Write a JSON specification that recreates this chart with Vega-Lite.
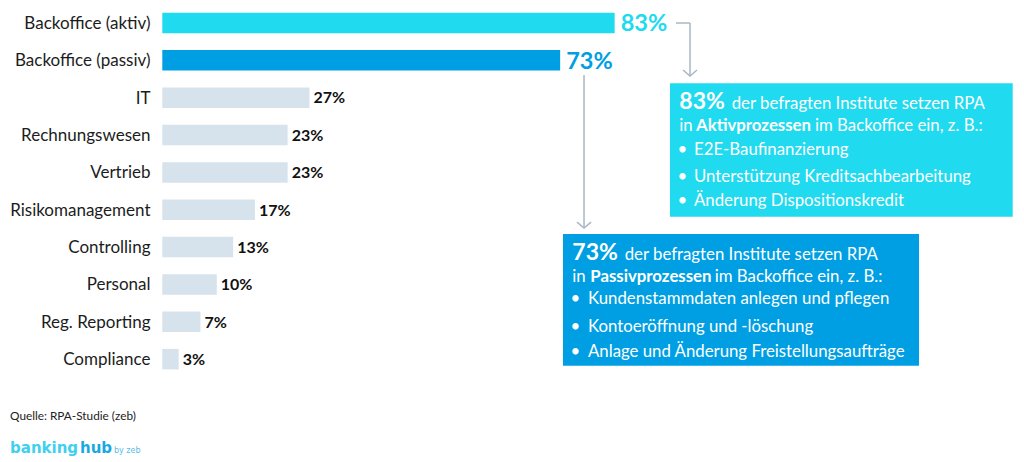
{
  "$schema": "https://vega.github.io/schema/vega-lite/v6.json",
  "width": 1024,
  "height": 462,
  "autosize": {"type": "none"},
  "padding": 0,
  "background": "white",
  "config": {"view": {"stroke": null}, "font": "Lato", "text": {"font": "Lato"}},
  "data": {
    "values": [
      {"bereich": "Backoffice (aktiv)", "rang": 0, "anteil": 83, "label": "83%", "gruppe": "aktiv"},
      {"bereich": "Backoffice (passiv)", "rang": 1, "anteil": 73, "label": "73%", "gruppe": "passiv"},
      {"bereich": "IT", "rang": 2, "anteil": 27, "label": "27%", "gruppe": "sonstige"},
      {"bereich": "Rechnungswesen", "rang": 3, "anteil": 23, "label": "23%", "gruppe": "sonstige"},
      {"bereich": "Vertrieb", "rang": 4, "anteil": 23, "label": "23%", "gruppe": "sonstige"},
      {"bereich": "Risikomanagement", "rang": 5, "anteil": 17, "label": "17%", "gruppe": "sonstige"},
      {"bereich": "Controlling", "rang": 6, "anteil": 13, "label": "13%", "gruppe": "sonstige"},
      {"bereich": "Personal", "rang": 7, "anteil": 10, "label": "10%", "gruppe": "sonstige"},
      {"bereich": "Reg. Reporting", "rang": 8, "anteil": 7, "label": "7%", "gruppe": "sonstige"},
      {"bereich": "Compliance", "rang": 9, "anteil": 3, "label": "3%", "gruppe": "sonstige"}
    ]
  },
  "layer": [
    {
      "mark": {"type": "bar", "height": 20.5},
      "encoding": {
        "x": {"field": "anteil", "type": "quantitative", "axis": null, "scale": {"domain": [-29.78, 158.11], "nice": false, "zero": false, "padding": 0}},
        "x2": {"datum": 0},
        "y": {"field": "rang", "type": "quantitative", "axis": null, "scale": {"domain": [-0.6158, 11.754], "reverse": true, "nice": false, "zero": false, "padding": 0}},
        "color": {"field": "gruppe", "type": "nominal", "legend": null, "scale": {"domain": ["aktiv", "passiv", "sonstige"], "range": ["#20daf0", "#009fe3", "#d7e3ec"]}}
      }
    },
    {
      "mark": {"type": "text", "align": "right", "baseline": "alphabetic", "dy": 6, "fontSize": 17, "color": "#1c1c1c"},
      "encoding": {
        "x": {"datum": -2.17, "axis": null},
        "y": {"field": "rang", "type": "quantitative", "axis": null},
        "text": {"field": "bereich"}
      }
    },
    {
      "transform": [{"filter": "datum.rang >= 2"}],
      "mark": {"type": "text", "align": "left", "baseline": "alphabetic", "dx": 4, "dy": 5.8, "fontSize": 16, "fontWeight": "bold", "color": "#111111"},
      "encoding": {
        "x": {"field": "anteil", "type": "quantitative", "axis": null},
        "y": {"field": "rang", "type": "quantitative", "axis": null},
        "text": {"field": "label"}
      }
    },
    {
      "transform": [{"filter": "datum.rang < 2"}],
      "mark": {"type": "text", "align": "left", "baseline": "alphabetic", "dx": 6, "dy": 8.5, "fontSize": 23.5, "fontWeight": "bold"},
      "encoding": {
        "x": {"field": "anteil", "type": "quantitative", "axis": null},
        "y": {"field": "rang", "type": "quantitative", "axis": null},
        "text": {"field": "label"},
        "color": {"condition": {"test": "datum.gruppe === 'aktiv'", "value": "#20daf0"}, "value": "#009fe3"}
      }
    },
    {
      "data": {"values": [{}]},
      "mark": {"type": "rect", "color": "#20daf0"},
      "encoding": {
        "x": {"datum": 93.16, "axis": null}, "x2": {"datum": 156.04},
        "y": {"datum": 1.614, "axis": null}, "y2": {"datum": 5.186}
      }
    },
    {
      "data": {"values": [{}]},
      "mark": {"type": "rect", "color": "#009fe3"},
      "encoding": {
        "x": {"datum": 73.52, "axis": null}, "x2": {"datum": 138.85},
        "y": {"datum": 5.649, "axis": null}, "y2": {"datum": 9.175}
      }
    },
    {
      "data": {"values": [{}]},
      "mark": {"type": "rule", "color": "#a9b7c4", "strokeWidth": 1.5},
      "encoding": {"x": {"datum": 94.26, "axis": null}, "x2": {"datum": 96.83}, "y": {"datum": 0, "axis": null}}
    },
    {
      "data": {"values": [{}]},
      "mark": {"type": "rule", "color": "#a9b7c4", "strokeWidth": 1.5},
      "encoding": {"x": {"datum": 96.83, "axis": null}, "y": {"datum": 0, "axis": null}, "y2": {"datum": 1.419}}
    },
    {
      "data": {"values": [{}]},
      "mark": {"type": "rule", "color": "#a9b7c4", "strokeWidth": 1.5},
      "encoding": {"x": {"datum": 77.38, "axis": null}, "y": {"datum": 1.392, "axis": null}, "y2": {"datum": 5.489}}
    },
    {
      "data": {"values": [{}]},
      "mark": {"type": "point", "shape": "M-1,-0.45L0,0.4L1,-0.45", "filled": false, "size": 196, "stroke": "#a9b7c4", "strokeWidth": 1.5, "opacity": 1},
      "encoding": {"x": {"datum": 96.83, "axis": null}, "y": {"datum": 1.344, "axis": null}}
    },
    {
      "data": {"values": [{}]},
      "mark": {"type": "point", "shape": "M-1,-0.45L0,0.4L1,-0.45", "filled": false, "size": 196, "stroke": "#a9b7c4", "strokeWidth": 1.5, "opacity": 1},
      "encoding": {"x": {"datum": 77.38, "axis": null}, "y": {"datum": 5.414, "axis": null}}
    },
    {
      "data": {"values": [{}]},
      "mark": {"type": "text", "align": "left", "baseline": "alphabetic", "fontSize": 23, "fontWeight": "bold", "color": "white"},
      "encoding": {"x": {"datum": 94.86, "axis": null}, "y": {"datum": 2.3025, "axis": null}, "text": {"value": "83%"}}
    },
    {
      "data": {"values": [{}]},
      "mark": {"type": "text", "align": "left", "baseline": "alphabetic", "fontSize": 16.8, "color": "white"},
      "encoding": {"x": {"datum": 104.48, "axis": null}, "y": {"datum": 2.3025, "axis": null}, "text": {"value": "der befragten Institute setzen RPA"}}
    },
    {
      "data": {"values": [{}]},
      "mark": {"type": "text", "align": "left", "baseline": "alphabetic", "fontSize": 16.8, "color": "white"},
      "encoding": {"x": {"datum": 94.86, "axis": null}, "y": {"datum": 2.8835, "axis": null}, "text": {"value": "in"}}
    },
    {
      "data": {"values": [{}]},
      "mark": {"type": "text", "align": "left", "baseline": "alphabetic", "fontSize": 16.8, "fontWeight": "bold", "color": "white"},
      "encoding": {"x": {"datum": 97.93, "axis": null}, "y": {"datum": 2.8835, "axis": null}, "text": {"value": "Aktivprozessen"}}
    },
    {
      "data": {"values": [{}]},
      "mark": {"type": "text", "align": "left", "baseline": "alphabetic", "fontSize": 16.8, "color": "white"},
      "encoding": {"x": {"datum": 119.76, "axis": null}, "y": {"datum": 2.8835, "axis": null}, "text": {"value": "im Backoffice ein, z. B.:"}}
    },
    {
      "data": {"values": [{"y": 3.534}, {"y": 4.249}, {"y": 4.892}]},
      "mark": {"type": "text", "align": "center", "baseline": "alphabetic", "fontSize": 16.8, "color": "white"},
      "encoding": {"x": {"datum": 95.41, "axis": null}, "y": {"field": "y", "type": "quantitative", "axis": null}, "text": {"value": "•"}}
    },
    {
      "data": {"values": [{}]},
      "mark": {"type": "text", "align": "left", "baseline": "alphabetic", "fontSize": 16.8, "color": "white"},
      "encoding": {"x": {"datum": 97.56, "axis": null}, "y": {"datum": 3.534, "axis": null}, "text": {"value": "E2E-Baufinanzierung"}}
    },
    {
      "data": {"values": [{}]},
      "mark": {"type": "text", "align": "left", "baseline": "alphabetic", "fontSize": 16.8, "color": "white"},
      "encoding": {"x": {"datum": 97.56, "axis": null}, "y": {"datum": 4.249, "axis": null}, "text": {"value": "Unterstützung Kreditsachbearbeitung"}}
    },
    {
      "data": {"values": [{}]},
      "mark": {"type": "text", "align": "left", "baseline": "alphabetic", "fontSize": 16.8, "color": "white"},
      "encoding": {"x": {"datum": 97.56, "axis": null}, "y": {"datum": 4.892, "axis": null}, "text": {"value": "Änderung Dispositionskredit"}}
    },
    {
      "data": {"values": [{}]},
      "mark": {"type": "text", "align": "left", "baseline": "alphabetic", "fontSize": 23, "fontWeight": "bold", "color": "white"},
      "encoding": {"x": {"datum": 75.23, "axis": null}, "y": {"datum": 6.345, "axis": null}, "text": {"value": "73%"}}
    },
    {
      "data": {"values": [{}]},
      "mark": {"type": "text", "align": "left", "baseline": "alphabetic", "fontSize": 16.8, "color": "white"},
      "encoding": {"x": {"datum": 84.84, "axis": null}, "y": {"datum": 6.345, "axis": null}, "text": {"value": "der befragten Institute setzen RPA"}}
    },
    {
      "data": {"values": [{}]},
      "mark": {"type": "text", "align": "left", "baseline": "alphabetic", "fontSize": 16.8, "color": "white"},
      "encoding": {"x": {"datum": 75.23, "axis": null}, "y": {"datum": 6.926, "axis": null}, "text": {"value": "in"}}
    },
    {
      "data": {"values": [{}]},
      "mark": {"type": "text", "align": "left", "baseline": "alphabetic", "fontSize": 16.8, "fontWeight": "bold", "color": "white"},
      "encoding": {"x": {"datum": 78.53, "axis": null}, "y": {"datum": 6.926, "axis": null}, "text": {"value": "Passivprozessen"}}
    },
    {
      "data": {"values": [{}]},
      "mark": {"type": "text", "align": "left", "baseline": "alphabetic", "fontSize": 16.8, "color": "white"},
      "encoding": {"x": {"datum": 101.36, "axis": null}, "y": {"datum": 6.926, "axis": null}, "text": {"value": "im Backoffice ein, z. B.:"}}
    },
    {
      "data": {"values": [{"y": 7.531}, {"y": 8.265}, {"y": 8.934}]},
      "mark": {"type": "text", "align": "center", "baseline": "alphabetic", "fontSize": 16.8, "color": "white"},
      "encoding": {"x": {"datum": 75.78, "axis": null}, "y": {"field": "y", "type": "quantitative", "axis": null}, "text": {"value": "•"}}
    },
    {
      "data": {"values": [{}]},
      "mark": {"type": "text", "align": "left", "baseline": "alphabetic", "fontSize": 16.8, "color": "white"},
      "encoding": {"x": {"datum": 78.11, "axis": null}, "y": {"datum": 7.531, "axis": null}, "text": {"value": "Kundenstammdaten anlegen und pflegen"}}
    },
    {
      "data": {"values": [{}]},
      "mark": {"type": "text", "align": "left", "baseline": "alphabetic", "fontSize": 16.8, "color": "white"},
      "encoding": {"x": {"datum": 78.11, "axis": null}, "y": {"datum": 8.265, "axis": null}, "text": {"value": "Kontoeröffnung und -löschung"}}
    },
    {
      "data": {"values": [{}]},
      "mark": {"type": "text", "align": "left", "baseline": "alphabetic", "fontSize": 16.8, "color": "white"},
      "encoding": {"x": {"datum": 78.11, "axis": null}, "y": {"datum": 8.934, "axis": null}, "text": {"value": "Anlage und Änderung Freistellungsaufträge"}}
    },
    {
      "data": {"values": [{}]},
      "mark": {"type": "text", "align": "left", "baseline": "alphabetic", "fontSize": 11.8, "color": "#222222"},
      "encoding": {"x": {"datum": -27.94, "axis": null}, "y": {"datum": 10.629, "axis": null}, "text": {"value": "Quelle: RPA-Studie (zeb)"}}
    },
    {
      "data": {"values": [{}]},
      "mark": {"type": "text", "align": "left", "baseline": "alphabetic", "font": "DejaVu Sans", "fontSize": 15, "fontWeight": "bold", "color": "#3fd0ef"},
      "encoding": {"x": {"datum": -27.94, "axis": null}, "y": {"datum": 11.52, "axis": null}, "text": {"value": "banking"}}
    },
    {
      "data": {"values": [{}]},
      "mark": {"type": "text", "align": "left", "baseline": "alphabetic", "font": "DejaVu Sans", "fontSize": 15, "fontWeight": "bold", "color": "#1aa8e2"},
      "encoding": {"x": {"datum": -15.1, "axis": null}, "y": {"datum": 11.52, "axis": null}, "text": {"value": "hub"}}
    },
    {
      "data": {"values": [{}]},
      "mark": {"type": "text", "align": "left", "baseline": "alphabetic", "font": "DejaVu Sans", "fontSize": 8, "color": "#5bbbe6"},
      "encoding": {"x": {"datum": -8.86, "axis": null}, "y": {"datum": 11.52, "axis": null}, "text": {"value": "by zeb"}}
    }
  ]
}
